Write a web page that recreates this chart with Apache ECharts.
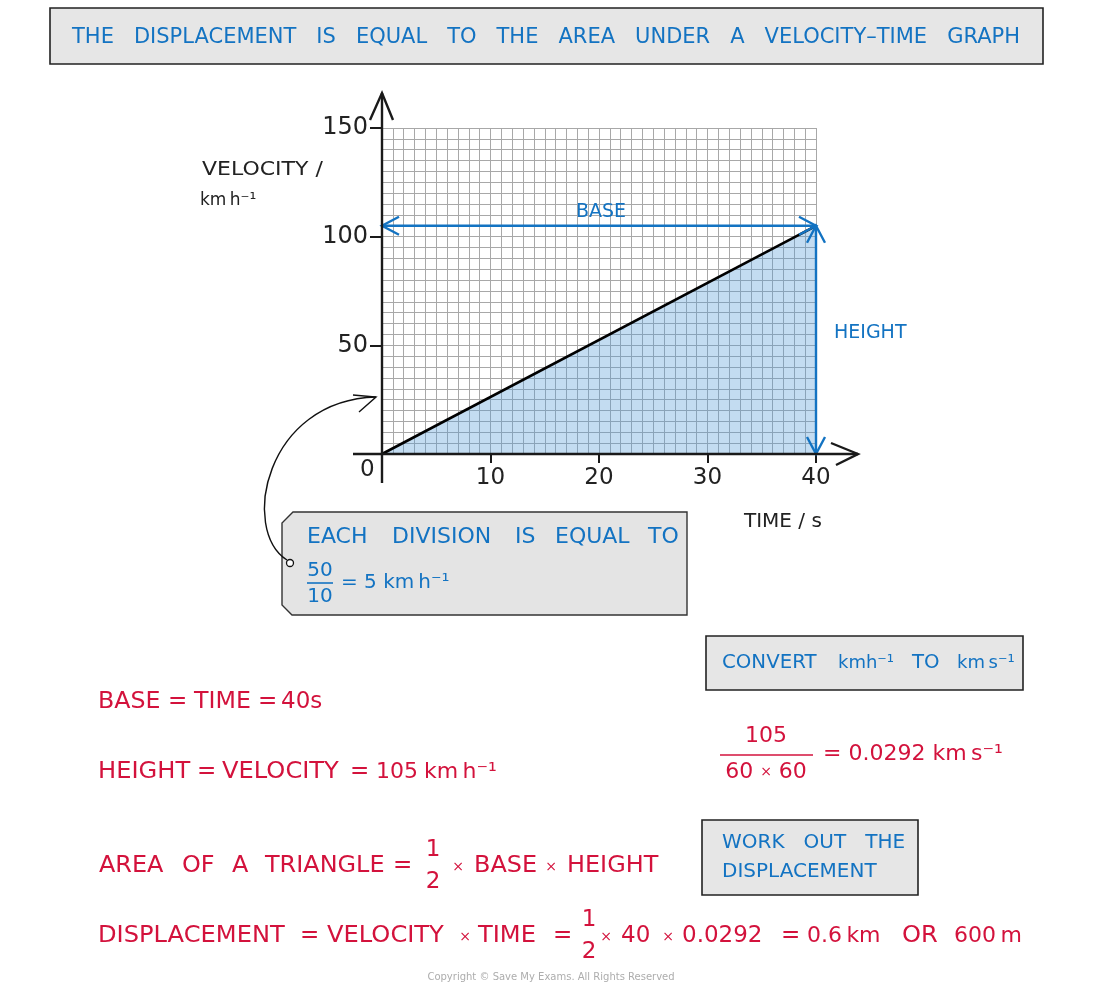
<!DOCTYPE html>
<html>
<head>
<meta charset="utf-8">
<script src="https://cdn.jsdelivr.net/npm/echarts@6/dist/echarts.min.js"></script>
<style>
  html, body { margin: 0; padding: 0; background: #fff; }
  #main { width: 1100px; height: 989px; }
</style>
</head>
<body>
<div id="main"></div>
<script>
// data
var timeTicks = [0, 10, 20, 30, 40];        // s
var velocityTicks = [0, 50, 100, 150];      // km/h
var lineTime = [0, 40];
var lineVelocity = [0, 105];
var baseArrow = [0, 105, 40, 105];          // x0, y0, x1, y1
var heightArrow = [40, 0, 40, 105];

var FONT = 'DejaVu Sans';
var BLUE = '#1373c2';
var RED = '#d3123c';
var INK = '#1a1a1a';
var THIN = '\u2009';

var chart = echarts.init(document.getElementById('main'));

function renderArrow(params, api) {
  var a = api.coord([api.value(0), api.value(1)]);
  var b = api.coord([api.value(2), api.value(3)]);
  var dx = b[0] - a[0], dy = b[1] - a[1];
  var len = Math.sqrt(dx * dx + dy * dy);
  var ux = dx / len, uy = dy / len;
  var hl = 17, hw = 9;
  function head(p, vx, vy) {
    return {
      type: 'polyline',
      shape: { points: [
        [p[0] - vx * hl - vy * hw, p[1] - vy * hl + vx * hw],
        p,
        [p[0] - vx * hl + vy * hw, p[1] - vy * hl - vx * hw]
      ] },
      style: { stroke: BLUE, lineWidth: 2.4, fill: null }
    };
  }
  return {
    type: 'group',
    children: [
      { type: 'line', shape: { x1: a[0], y1: a[1], x2: b[0], y2: b[1] },
        style: { stroke: BLUE, lineWidth: 2.4 } },
      head(b, ux, uy),
      head(a, -ux, -uy)
    ]
  };
}

var option = {
  animation: false,
  backgroundColor: '#fff',
  grid: { left: 382, top: 128, width: 434, height: 326 },
  xAxis: {
    type: 'value', min: 0, max: 40, interval: 10,
    axisLine: { show: false },
    axisTick: { show: true, length: 9, lineStyle: { color: INK, width: 2 } },
    axisLabel: {
      fontSize: 23, color: '#222', margin: 13, fontFamily: FONT,
      formatter: function (v) { return v === 0 ? '' : String(v); }
    },
    splitLine: { show: true, lineStyle: { color: '#a8a8a8', width: 1 } },
    minorTick: { show: false, splitNumber: 10 },
    minorSplitLine: { show: true, lineStyle: { color: '#a8a8a8', width: 1 } }
  },
  yAxis: {
    type: 'value', min: 0, max: 150, interval: 50,
    axisLine: { show: false },
    axisTick: { show: true, length: 12, lineStyle: { color: INK, width: 2 } },
    axisLabel: {
      fontSize: 24, color: '#222', margin: 14, fontFamily: FONT, padding: [7, 0, 0, 0],
      formatter: function (v) { return v === 0 ? '' : String(v); }
    },
    splitLine: { show: true, lineStyle: { color: '#a8a8a8', width: 1 } },
    minorTick: { show: false, splitNumber: 10 },
    minorSplitLine: { show: true, lineStyle: { color: '#a8a8a8', width: 1 } }
  },
  series: [
    {
      type: 'line',
      data: lineTime.map(function (t, i) { return [t, lineVelocity[i]]; }),
      symbol: 'none',
      lineStyle: { color: '#000', width: 2.6 },
      areaStyle: { color: 'rgba(86,156,214,0.5)' },
      z: 3
    },
    {
      type: 'custom',
      clip: false,
      renderItem: renderArrow,
      data: [baseArrow, heightArrow],
      z: 4
    }
  ]
};
chart.setOption(option);

// axes drawn past the grid, with open arrow heads
var o = chart.convertToPixel({ gridIndex: 0 }, [timeTicks[0], velocityTicks[0]]);
var xe = chart.convertToPixel({ gridIndex: 0 }, [timeTicks[timeTicks.length - 1], 0]);
var ye = chart.convertToPixel({ gridIndex: 0 }, [0, velocityTicks[velocityTicks.length - 1]]);

function txt(x, y, s, color, size, extra) {
  var st = { text: s, fill: color, fontSize: size, fontFamily: FONT,
             textVerticalAlign: 'middle', textAlign: 'left' };
  var el = { type: 'text', x: x, y: y, style: st, z: 20 };
  if (extra) for (var k in extra) {
    if (k === 'scaleX') el.scaleX = extra[k]; else st[k] = extra[k];
  }
  return el;
}
// one line of words, each word placed where it sits in the picture
function row(y, color, size, pieces, sx) {
  return pieces.map(function (p) {
    if (p[1] === '×') return txt(p[0], y + 1, '×', color, 14, { textAlign: 'center' });
    var wordy = /^[A-Z]+$/.test(p[1]);
    return txt(p[0], y, p[1], color, p[2] || size, { scaleX: wordy ? (sx || 1) : 1 });
  });
}
function box(x, y, w, h) {
  return { type: 'rect', shape: { x: x, y: y, width: w, height: h },
           style: { fill: '#e6e6e6', stroke: '#222', lineWidth: 1.6 }, z: 10 };
}
function bar(x1, x2, y, color) {
  return { type: 'line', shape: { x1: x1, y1: y, x2: x2, y2: y },
           style: { stroke: color, lineWidth: 1.6 }, z: 20 };
}

var graphics = [
  // x axis
  { type: 'line', shape: { x1: o[0] - 29, y1: o[1], x2: xe[0] + 42, y2: o[1] },
    style: { stroke: INK, lineWidth: 2.4 }, z: 15 },
  { type: 'polyline', shape: { points: [[xe[0] + 15, o[1] - 11], [xe[0] + 42, o[1]], [xe[0] + 20, o[1] + 11]] },
    style: { stroke: INK, lineWidth: 2.4, fill: null }, z: 15 },
  // y axis
  { type: 'line', shape: { x1: o[0], y1: o[1] + 29, x2: o[0], y2: ye[1] - 35 },
    style: { stroke: INK, lineWidth: 2.4 }, z: 15 },
  { type: 'polyline', shape: { points: [[o[0] - 12, ye[1] - 8], [o[0], ye[1] - 35], [o[0] + 11, ye[1] - 8]] },
    style: { stroke: INK, lineWidth: 2.4, fill: null }, z: 15 },
  txt(o[0] - 22, o[1] + 16, '0', '#222', 23),

  // axis names
  txt(202, 170, 'VELOCITY /', '#222', 20, { scaleX: 1.1 }),
  txt(200, 201, 'km' + THIN + 'h⁻¹', '#222', 17),
  txt(744, 522, 'TIME / s', '#222', 20),
  txt(601, 212, 'BASE', BLUE, 19, { textAlign: 'center' }),
  txt(834, 333, 'HEIGHT', BLUE, 19),

  // title box
  box(50, 8, 993, 56),
  txt(546, 38, 'THE   DISPLACEMENT   IS   EQUAL   TO   THE   AREA   UNDER   A   VELOCITY–TIME   GRAPH', BLUE, 21, { textAlign: 'center' }),

  // callout
  { type: 'polygon', shape: { points: [[293, 512], [687, 512], [687, 615], [292, 615], [282, 605], [282, 523]] },
    style: { fill: '#e4e4e4', stroke: '#333', lineWidth: 1.4 }, z: 10 },
  txt(320, 571, '50', BLUE, 20, { textAlign: 'center' }),
  bar(307, 333, 583, BLUE),
  txt(320, 597, '10', BLUE, 20, { textAlign: 'center' }),
  txt(341, 583, '= 5 km' + THIN + 'h⁻¹', BLUE, 20),
  { type: 'bezierCurve', shape: { x1: 287, y1: 560, cpx1: 240, cpy1: 530, cpx2: 265, cpy2: 400, x2: 376, y2: 397 },
    style: { stroke: '#111', lineWidth: 1.4, fill: null }, z: 16 },
  { type: 'polyline', shape: { points: [[353, 395], [376, 397], [359, 412]] },
    style: { stroke: '#111', lineWidth: 1.4, fill: null }, z: 16 },
  { type: 'circle', shape: { cx: 290, cy: 563, r: 3.5 }, style: { fill: '#fff', stroke: '#111', lineWidth: 1.3 }, z: 17 },

  // convert box
  box(706, 636, 317, 54),

  // red fraction
  txt(766, 736, '105', RED, 22, { textAlign: 'center' }),
  bar(720, 813, 755, RED),
  txt(766, 772, '60 {m|×} 60', RED, 22, { textAlign: 'center', rich: { m: { fontSize: 14, fontFamily: FONT } } }),
  txt(823, 754, '= 0.0292 km' + THIN + 's⁻¹', RED, 22),

  // work out box
  box(702, 820, 216, 75),
  txt(722, 843, 'WORK   OUT   THE', BLUE, 20),
  txt(722, 872, 'DISPLACEMENT', BLUE, 20),

  // fractions 1/2
  txt(433, 850, '1', RED, 23, { textAlign: 'center' }),
  txt(433, 882, '2', RED, 23, { textAlign: 'center' }),
  txt(589, 920, '1', RED, 23, { textAlign: 'center' }),
  txt(589, 952, '2', RED, 23, { textAlign: 'center' }),

  txt(551, 977, 'Copyright © Save My Exams. All Rights Reserved', '#adadad', 10, { textAlign: 'center' })
];

graphics = graphics
  .concat(row(537, BLUE, 22, [[307, 'EACH'], [392, 'DIVISION'], [515, 'IS'], [555, 'EQUAL'], [648, 'TO']]))
  .concat(row(663, BLUE, 19, [[722, 'CONVERT'], [838, 'kmh⁻¹', 18], [912, 'TO'], [957, 'km' + THIN + 's⁻¹', 18]], 1.04))
  .concat(row(702, RED, 23, [[98, 'BASE'], [168, '='], [194, 'TIME'], [258, '='], [281, '40s']], 1.03))
  .concat(row(772, RED, 23, [[98, 'HEIGHT'], [197, '='], [222, 'VELOCITY'], [350, '='], [376, '105', 22],
                             [424, 'km' + THIN + 'h⁻¹', 22]], 1.05))
  .concat(row(866, RED, 23, [[99, 'AREA'], [182, 'OF'], [232, 'A'], [265, 'TRIANGLE'], [393, '='],
                             [458, '×'], [474, 'BASE'], [551, '×'], [567, 'HEIGHT']], 1.04))
  .concat(row(936, RED, 23, [[98, 'DISPLACEMENT'], [300, '='], [327, 'VELOCITY'], [465, '×'], [478, 'TIME'], [553, '='],
                             [606, '×'], [621, '40'], [668, '×'], [682, '0.0292'], [781, '='],
                             [807, '0.6' + THIN + 'km', 22], [902, 'OR'], [954, '600' + THIN + 'm', 22]], 1.05));

chart.setOption({ graphic: graphics });
</script>
</body>
</html>
